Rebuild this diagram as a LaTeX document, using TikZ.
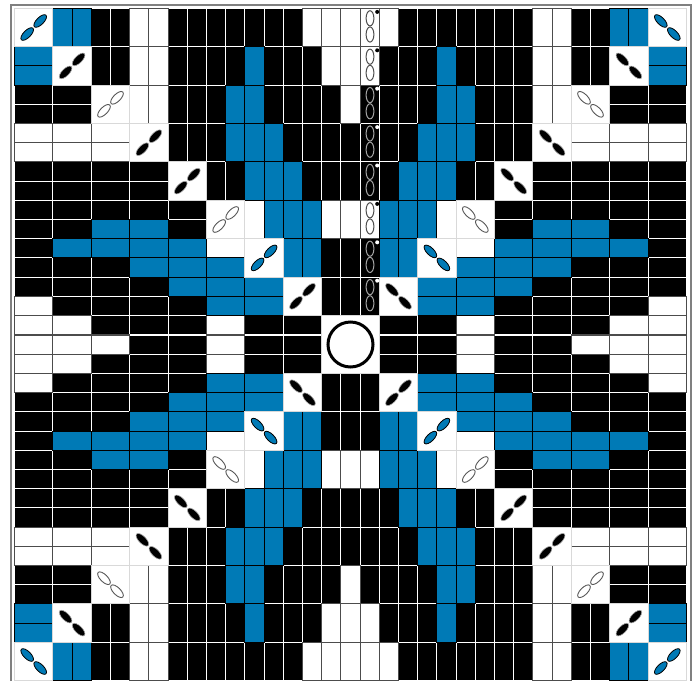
\documentclass[tikz,border=0pt]{standalone}
\definecolor{bluecell}{HTML}{007AB6}
\tikzset{
  blk/.style={fill=black,draw=white,line width=0.9pt},
  wht/.style={fill=white,draw=black!70,line width=0.9pt},
  blu/.style={fill=bluecell,draw=black,line width=0.9pt},
  diagbox/.style={fill=white,draw=black!15,line width=1pt},
  beadblue/.style={fill=bluecell,draw=black,line width=0.8pt},
  beadblack/.style={fill=black,draw=black!35,line width=0.6pt},
  beadwhite/.style={fill=white,draw=black!65,line width=0.9pt},
  frameline/.style={draw=black!50,line width=2pt},
  colbeadw/.style={fill=white,draw=black!70,line width=1pt},
  colbeadb/.style={fill=black,draw=black!35,line width=1pt},
  ringline/.style={draw=black,line width=3pt,fill=white}
}
% vertical cells: big row #1, half columns #2..#3, mirrored four ways
\newcommand{\vrun}[4]{%
  \foreach \i in {#2,...,#3}{%
    \pgfmathsetmacro{\xa}{14.5+19.2*\i}%
    \pgfmathsetmacro{\ya}{8.3+38.4*#1}%
    \pgfmathsetmacro{\xb}{701-\xa-19.2}%
    \pgfmathsetmacro{\yb}{689-\ya-38.4}%
    \draw[#4] (\xa,\ya) rectangle ++(19.2,38.4);
    \draw[#4] (\xb,\ya) rectangle ++(19.2,38.4);
    \draw[#4] (\xa,\yb) rectangle ++(19.2,38.4);
    \draw[#4] (\xb,\yb) rectangle ++(19.2,38.4);
  }}
% horizontal cells: half row #1, big columns #2..#3, mirrored four ways
\newcommand{\hrun}[4]{%
  \foreach \k in {#2,...,#3}{%
    \pgfmathsetmacro{\xa}{14.5+38.4*\k}%
    \pgfmathsetmacro{\ya}{8.3+19.2*#1}%
    \pgfmathsetmacro{\xb}{701-\xa-38.4}%
    \pgfmathsetmacro{\yb}{689-\ya-19.2}%
    \draw[#4] (\xa,\ya) rectangle ++(38.4,19.2);
    \draw[#4] (\xb,\ya) rectangle ++(38.4,19.2);
    \draw[#4] (\xa,\yb) rectangle ++(38.4,19.2);
    \draw[#4] (\xb,\yb) rectangle ++(38.4,19.2);
  }}
\newcommand{\twobeads}[4]{%
  \begin{scope}[shift={(#1,#2)},rotate=#3]
    \draw[#4] (9.2pt,0pt) ellipse [x radius=8.2pt,y radius=3.6pt];
    \draw[#4] (-9.2pt,0pt) ellipse [x radius=8.2pt,y radius=3.6pt];
  \end{scope}}
% diagonal box: index #1, bead style #2
\newcommand{\diagcell}[2]{%
  \pgfmathsetmacro{\xa}{14.5+38.4*#1}%
  \pgfmathsetmacro{\ya}{8.3+38.4*#1}%
  \pgfmathsetmacro{\xb}{701-\xa-38.4}%
  \pgfmathsetmacro{\yb}{689-\ya-38.4}%
  \draw[diagbox] (\xa,\ya) rectangle ++(38.4,38.4);
  \draw[diagbox] (\xb,\ya) rectangle ++(38.4,38.4);
  \draw[diagbox] (\xa,\yb) rectangle ++(38.4,38.4);
  \draw[diagbox] (\xb,\yb) rectangle ++(38.4,38.4);
  \pgfmathsetmacro{\xac}{\xa+19.2}%
  \pgfmathsetmacro{\xbc}{\xb+19.2}%
  \pgfmathsetmacro{\yac}{\ya+19.2}%
  \pgfmathsetmacro{\ybc}{\yb+19.2}%
  \twobeads{\xac}{\yac}{45}{#2}
  \twobeads{\xbc}{\yac}{-45}{#2}
  \twobeads{\xac}{\ybc}{-45}{#2}
  \twobeads{\xbc}{\ybc}{45}{#2}}
% bead in the centre column: big row #1, bead style #2, dot colour #3
\newcommand{\colbead}[3]{%
  \pgfmathsetmacro{\ya}{8.3+38.4*#1}%
  \pgfmathsetmacro{\yu}{\ya+10}%
  \pgfmathsetmacro{\yl}{\ya+26.2}%
  \pgfmathsetmacro{\yd}{\ya+3.6}%
  \draw[#2] (370,\yu) ellipse [x radius=3.9pt,y radius=7.6pt];
  \draw[#2] (370,\yl) ellipse [x radius=3.9pt,y radius=7.6pt];
  \fill[#3] (377.2,\yd) circle [radius=2pt];}
\begin{document}
\begin{tikzpicture}[x=1pt,y=-1pt]
\useasboundingbox (0,0) rectangle (699,681);
% black cells
\vrun{0}{4}{5}{blk}\vrun{0}{8}{14}{blk}
\vrun{1}{4}{5}{blk}\vrun{1}{8}{11}{blk}\vrun{1}{13}{15}{blk}
\vrun{2}{8}{10}{blk}\vrun{2}{13}{16}{blk}
\vrun{3}{8}{10}{blk}\vrun{3}{14}{17}{blk}
\vrun{4}{10}{11}{blk}\vrun{4}{15}{17}{blk}
\vrun{6}{16}{17}{blk}
\vrun{7}{16}{17}{blk}
\hrun{4}{0}{1}{blk}\hrun{5}{0}{1}{blk}
\hrun{8}{0}{3}{blk}\hrun{9}{0}{3}{blk}
\hrun{10}{0}{4}{blk}
\hrun{11}{0}{1}{blk}\hrun{11}{4}{4}{blk}
\hrun{12}{0}{0}{blk}
\hrun{13}{0}{2}{blk}
\hrun{14}{0}{3}{blk}
\hrun{15}{1}{4}{blk}
\hrun{16}{2}{4}{blk}\hrun{16}{6}{7}{blk}
\hrun{17}{3}{4}{blk}\hrun{17}{6}{7}{blk}
% white cells
\vrun{0}{6}{7}{wht}\vrun{0}{15}{17}{wht}
\vrun{1}{6}{7}{wht}\vrun{1}{16}{17}{wht}
\vrun{2}{6}{7}{wht}\vrun{2}{17}{17}{wht}
\vrun{5}{12}{12}{wht}\vrun{5}{16}{17}{wht}
\hrun{6}{0}{2}{wht}\hrun{7}{0}{2}{wht}
\hrun{12}{5}{5}{wht}
\hrun{15}{0}{0}{wht}
\hrun{16}{0}{1}{wht}\hrun{16}{5}{5}{wht}
\hrun{17}{0}{2}{wht}\hrun{17}{5}{5}{wht}
% blue cells
\vrun{0}{2}{3}{blu}
\vrun{1}{12}{12}{blu}
\vrun{2}{11}{12}{blu}
\vrun{3}{11}{13}{blu}
\vrun{4}{12}{14}{blu}
\vrun{5}{13}{15}{blu}
\vrun{6}{14}{15}{blu}
\hrun{2}{0}{0}{blu}\hrun{3}{0}{0}{blu}
\hrun{11}{2}{3}{blu}
\hrun{12}{1}{4}{blu}
\hrun{13}{3}{5}{blu}
\hrun{14}{4}{6}{blu}
\hrun{15}{5}{6}{blu}
% diagonal boxes with paired beads
\diagcell{0}{beadblue}
\diagcell{1}{beadblack}
\diagcell{2}{beadwhite}
\diagcell{3}{beadblack}
\diagcell{4}{beadblack}
\diagcell{5}{beadwhite}
\diagcell{6}{beadblue}
\diagcell{7}{beadblack}
% beads of the centre column
\colbead{0}{colbeadw}{black}
\colbead{1}{colbeadw}{black}
\colbead{2}{colbeadb}{white}
\colbead{3}{colbeadb}{white}
\colbead{4}{colbeadb}{white}
\colbead{5}{colbeadw}{black}
\colbead{6}{colbeadb}{white}
\colbead{7}{colbeadb}{white}
% centre
\draw[fill=white,draw=black!15,line width=1pt] (321.7,315.7) rectangle (379.3,373.3);
\draw[ringline] (350.5,344.5) circle [radius=22.5pt];
% frame
\draw[frameline] (11,681) -- (11,5) -- (691,5) -- (691,681);
\end{tikzpicture}
\end{document}
